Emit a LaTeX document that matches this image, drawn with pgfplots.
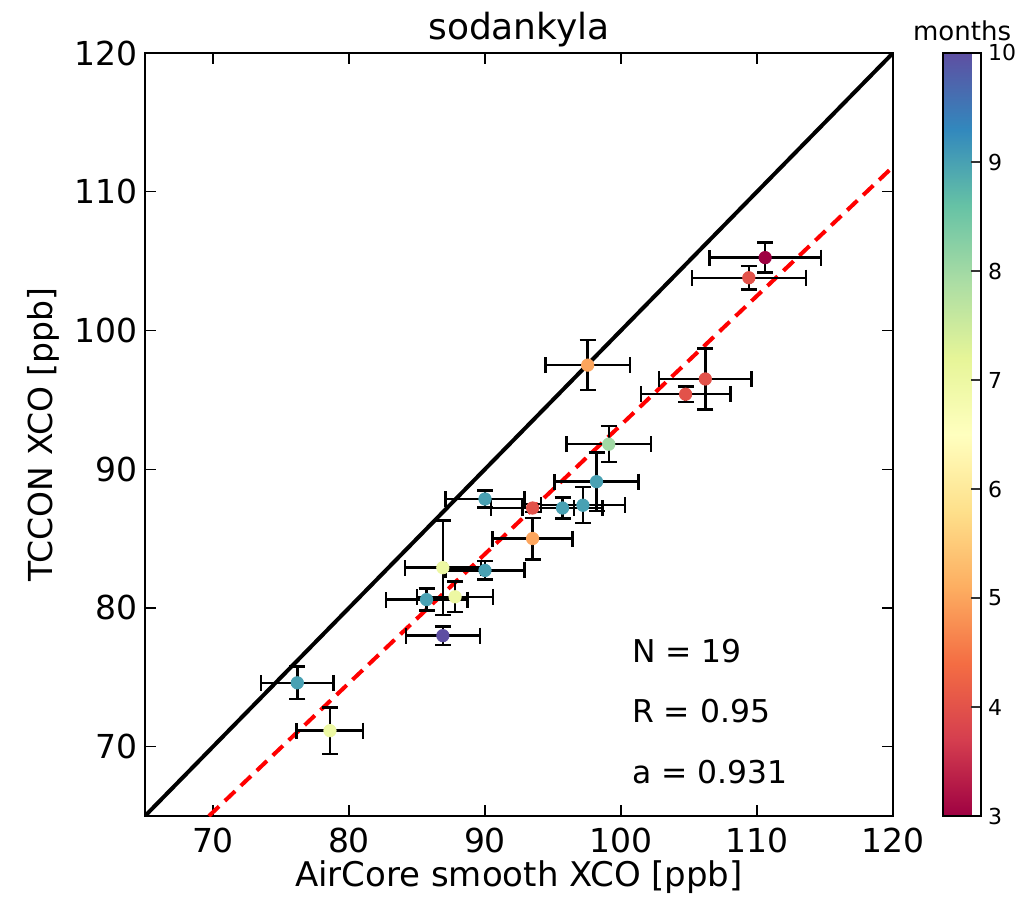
\documentclass[border=0pt]{standalone}
\usepackage{fontspec}
\setmainfont{DejaVu Sans}
\usepackage{pgfplots}
\usepackage{pgfplotstable}
\pgfplotsset{compat=1.18}
\pgfplotsset{
  /pgf/number format/assume math mode=true,
  colormap={spectral}{rgb255=(158,1,66) rgb255=(213,62,79) rgb255=(244,109,67)
    rgb255=(253,174,97) rgb255=(254,224,139) rgb255=(255,255,191) rgb255=(230,245,152)
    rgb255=(171,221,164) rgb255=(102,194,165) rgb255=(50,136,189) rgb255=(94,79,162)},
}

% AirCore vs TCCON XCO, errors and month of each profile
\pgfplotstableread{
x      y      ex    ey    m
76.2   74.6   2.66  1.17  9
78.6   71.15  2.45  1.67  7
86.9   78.0   2.72  0.66  10
85.7   80.6   3.0   0.8   9
87.8   80.8   2.8   1.1   7
86.9   82.9   2.8   3.4   7
90.0   82.7   2.9   0.66  9
90.0   87.85  2.9   0.6   9
93.5   87.2   3.06  0.3   4
93.5   85.0   2.94  1.5   5
95.7   87.2   2.95  0.75  9
97.2   87.4   3.1   1.3   9
98.2   89.1   3.1   2.1   9
99.1   91.8   3.1   1.3   8
97.55  97.5   3.1   1.8   5
106.2  96.5   3.4   2.2   4
104.75 95.4   3.3   0.55  4
110.6  105.25 4.1   1.08  3
109.4  103.8  4.2   0.85  4
}\sodankyla

\begin{document}
\begin{tikzpicture}
\begin{axis}[
  at={(0,0)}, anchor=south west,
  scale only axis, width=374pt, height=381.5pt,
  xmin=65, xmax=120, ymin=65, ymax=120,
  xtick={70,80,...,120}, ytick={70,80,...,120},
  tick align=inside, major tick length=5.5pt,
  tick style={black, line width=0.6pt},
  axis line style={line width=1pt},
  ticklabel style={font=\fontsize{16.5}{19}\selectfont},
  xticklabel style={yshift=-2.5pt},
  title=sodankyla,
  title style={font=\fontsize{18}{21}\selectfont, at={(axis description cs:0.5,1)}, anchor=base, yshift=0.9pt},
  xlabel={AirCore smooth XCO [ppb]},
  xlabel style={font=\fontsize{17}{20}\selectfont, at={([yshift=-35.3pt]axis description cs:0.5,0)}, anchor=base},
  ylabel={TCCON XCO [ppb]},
  ylabel style={font=\fontsize{16.5}{20}\selectfont, at={([xshift=-46pt]axis description cs:0,0.5)}, anchor=base},
  colormap name=spectral,
  point meta min=3, point meta max=10,
  colorbar,
  colorbar style={
    at={(parent axis.north east)}, anchor=north west, xshift=16.5pt,
    scale only axis, width=19pt,
    ytick={3,4,...,10},
    ytick pos=right, yticklabel pos=right,
    tick align=inside, major tick length=5pt,
    tick style={black!80, line width=0.6pt},
    axis line style={line width=1.2pt},
    yticklabel style={font=\fontsize{11}{13}\selectfont},
    title=months,
    title style={font=\fontsize{13}{15}\selectfont, at={(0.5,1)}, anchor=base, yshift=0pt},
  },
]
% one-to-one line and the fitted slope
\addplot[black, line width=2pt] coordinates {(65,65) (120,120)};
\addplot[red, line width=2pt, dash pattern=on 7pt off 4pt] coordinates {(69.7,65) (120,111.8)};

% error bars with caps, underneath the markers
\addplot[black, only marks, mark=*, mark size=0.01pt,
  error bars/.cd, x dir=both, x explicit, y dir=both, y explicit,
  error bar style={black, line width=1.2pt},
  error mark=|,
  error mark options={black, line width=1.2pt, mark size=4pt}]
  table[x=x, y=y, x error=ex, y error=ey] {\sodankyla};

% markers coloured by month
\addplot[scatter, only marks, mark=*, mark size=3.1pt, scatter src=explicit,
  scatter/use mapped color={draw=mapped color, fill=mapped color}]
  table[x=x, y=y, meta=m] {\sodankyla};

\node[anchor=base west, font=\fontsize{15.7}{18}\selectfont] at (axis cs:100.3,76.07) {N = 19};
\node[anchor=base west, font=\fontsize{15.7}{18}\selectfont] at (axis cs:100.3,71.71) {R = 0.95};
\node[anchor=base west, font=\fontsize{15.7}{18}\selectfont] at (axis cs:100.3,67.31) {a = 0.931};
\end{axis}
\pgfresetboundingbox
\useasboundingbox (-72.5pt,-46.5pt) rectangle (440.5pt,408pt);
\end{tikzpicture}
\end{document}
